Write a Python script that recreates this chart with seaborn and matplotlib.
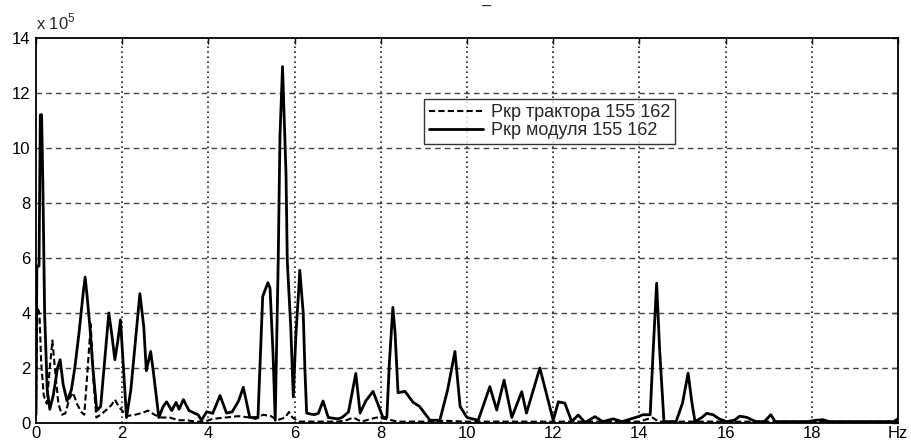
import matplotlib
matplotlib.use("Agg")
import matplotlib.pyplot as plt
import seaborn as sns
import numpy as np
import pandas as pd

# ---- data (force amplitude, units of 1e5) ----
module_freq = [0.00, 0.02, 0.07, 0.10, 0.13, 0.16, 0.20, 0.26, 0.32, 0.40, 0.50, 0.56, 0.63, 0.72,
               0.82, 0.90, 1.00, 1.10, 1.14, 1.18, 1.25, 1.32, 1.41, 1.50, 1.60, 1.69, 1.76, 1.83,
               1.90, 1.96, 2.03, 2.10, 2.20, 2.32, 2.41, 2.50, 2.56, 2.66, 2.72, 2.85, 2.95, 3.03,
               3.15, 3.25, 3.32, 3.42, 3.55, 3.76, 3.84, 3.96, 4.10, 4.27, 4.42, 4.55, 4.70, 4.81,
               4.96, 5.15, 5.22, 5.26, 5.38, 5.43, 5.50, 5.55, 5.62, 5.66, 5.72, 5.76, 5.80, 5.83,
               5.91, 5.97, 6.03, 6.09, 6.12, 6.20, 6.24, 6.28, 6.45, 6.55, 6.66, 6.78, 7.00, 7.10,
               7.25, 7.42, 7.52, 7.65, 7.82, 8.05, 8.14, 8.20, 8.28, 8.33, 8.40, 8.56, 8.75, 8.90,
               9.14, 9.37, 9.55, 9.72, 9.84, 10.00, 10.26, 10.53, 10.69, 10.86, 11.04, 11.27, 11.38,
               11.69, 12.00, 12.12, 12.27, 12.43, 12.58, 12.74, 12.97, 13.15, 13.39, 13.60, 13.97,
               14.08, 14.25, 14.32, 14.40, 14.47, 14.57, 14.85, 15.00, 15.13, 15.22, 15.29, 15.45,
               15.56, 15.71, 15.85, 16.02, 16.20, 16.33, 16.50, 16.70, 16.90, 17.05, 17.15, 17.50,
               17.90, 18.10, 18.26, 18.40, 18.65, 19.90, 20.00]
module_vals = [0.3, 5.7, 5.7, 11.2, 11.2, 8.6, 4.0, 1.2, 0.5, 1.0, 2.0, 2.3, 1.4, 0.8,
               1.2, 2.0, 3.3, 4.8, 5.3, 4.7, 3.5, 2.0, 0.45, 0.6, 2.4, 4.0, 3.2, 2.3,
               3.0, 3.75, 2.0, 0.2, 1.2, 3.2, 4.7, 3.5, 1.9, 2.6, 1.9, 0.2, 0.6, 0.77,
               0.45, 0.75, 0.5, 0.85, 0.45, 0.3, 0.1, 0.41, 0.35, 1.0, 0.36, 0.4, 0.8, 1.3,
               0.2, 0.2, 3.0, 4.6, 5.1, 4.9, 2.5, 0.1, 5.9, 10.4, 12.95, 11.0, 9.1, 5.9,
               3.5, 0.95, 3.2, 4.7, 5.55, 4.0, 1.9, 0.36, 0.3, 0.35, 0.8, 0.2, 0.15, 0.2,
               0.4, 1.8, 0.36, 0.8, 1.15, 0.2, 0.2, 2.2, 4.2, 3.3, 1.1, 1.15, 0.75, 0.6,
               0.1, 0.1, 1.2, 2.6, 0.6, 0.2, 0.1, 1.32, 0.47, 1.56, 0.2, 1.14, 0.36,
               2.0, 0.1, 0.77, 0.72, 0.05, 0.29, 0.02, 0.23, 0.05, 0.15, 0.05, 0.23,
               0.3, 0.3, 2.65, 5.08, 2.65, 0.05, 0.05, 0.72, 1.81, 0.72, 0.05, 0.2,
               0.35, 0.3, 0.15, 0.05, 0.1, 0.25, 0.2, 0.05, 0.05, 0.3, 0.05, 0.05,
               0.05, 0.1, 0.12, 0.05, 0.05, 0.05, 0.15]

tractor_freq = [0.00, 0.03, 0.08, 0.12, 0.18, 0.25, 0.32, 0.38, 0.45, 0.52, 0.60, 0.68, 0.78, 0.86,
                0.95, 1.05, 1.12, 1.20, 1.27, 1.33, 1.40, 1.50, 1.65, 1.75, 1.83, 1.92, 2.00, 2.10,
                2.30, 2.45, 2.60, 2.75, 2.90, 3.10, 3.30, 3.50, 3.70, 3.90, 4.10, 4.40, 4.70, 4.95,
                5.10, 5.27, 5.45, 5.60, 5.78, 5.87, 5.95, 6.10, 6.60, 7.00, 7.20, 7.36, 7.55, 7.90,
                8.10, 8.40, 9.00, 9.50, 10.00, 11.00, 12.00, 13.00, 14.00, 14.30, 14.45, 15.00,
                16.00, 17.00, 18.00, 19.00, 20.00]
tractor_vals = [0.5, 4.2, 4.0, 2.2, 1.0, 0.7, 2.0, 3.0, 1.8, 0.7, 0.3, 0.35, 0.9, 1.1,
                0.7, 0.4, 0.3, 2.0, 3.6, 1.6, 0.2, 0.3, 0.5, 0.65, 0.85, 0.6, 0.45, 0.25,
                0.3, 0.36, 0.45, 0.3, 0.2, 0.2, 0.1, 0.1, 0.05, 0.05, 0.15, 0.2, 0.25, 0.2,
                0.15, 0.3, 0.25, 0.1, 0.2, 0.4, 0.2, 0.05, 0.05, 0.05, 0.1, 0.2, 0.05, 0.2,
                0.15, 0.05, 0.05, 0.08, 0.05, 0.05, 0.05, 0.05, 0.05, 0.2, 0.05, 0.05,
                0.05, 0.05, 0.05, 0.05, 0.05]

series_labels = ["Ркр трактора 155 162", "Ркр модуля 155 162"]
x_ticks = [0, 2, 4, 6, 8, 10, 12, 14, 16, 18, 20]
x_tick_labels = ["0", "2", "4", "6", "8", "10", "12", "14", "16", "18", "Hz"]
y_ticks = [0, 2, 4, 6, 8, 10, 12, 14]

# ---- style ----
sns.set_style("white")
plt.rcParams["font.family"] = ["Liberation Sans", "DejaVu Sans"]
plt.rcParams["mathtext.fontset"] = "custom"
plt.rcParams["mathtext.rm"] = "Liberation Sans"

fig = plt.figure(figsize=(9.12, 4.41), dpi=100)
ax = fig.add_axes([36 / 912, 1 - 423 / 441, (898 - 36) / 912, (423 - 37.7) / 441])

df_t = pd.DataFrame({"f": tractor_freq, "v": tractor_vals})
df_m = pd.DataFrame({"f": module_freq, "v": module_vals})

sns.lineplot(data=df_t, x="f", y="v", ax=ax, color="black", lw=1.5,
             estimator=None, sort=False, label=series_labels[0], zorder=3)
sns.lineplot(data=df_m, x="f", y="v", ax=ax, color="black", lw=2.0,
             estimator=None, sort=False, label=series_labels[1], zorder=4)
ax.lines[0].set_dashes((3, 1.5))

ax.set_xlim(0, 20)
ax.set_ylim(0, 14)
ax.set_xticks(x_ticks)
ax.set_xticklabels(x_tick_labels)
ax.set_yticks(y_ticks)
ax.set_xlabel("")
ax.set_ylabel("")

# grid: horizontal dashed, vertical dotted
for yv in y_ticks[1:-1]:
    ax.axhline(yv, color="#444444", lw=1.0, ls=(0, (4, 3)), zorder=1)
for xv in x_ticks[1:-1]:
    ax.axvline(xv, color="#222222", lw=1.2, ls=(0, (1, 2)), zorder=1)

for sp in ax.spines.values():
    sp.set_color("black")
    sp.set_linewidth(1.3)
ax.tick_params(direction="in", length=4, width=1, labelsize=12, colors="black", pad=2,
               top=True, right=True)
ax.tick_params(axis="y", pad=4)

leg = ax.legend(loc="upper left", bbox_to_anchor=(0.45, 0.842), borderaxespad=0,
                frameon=True, fancybox=False, fontsize=13, handlelength=3.0,
                handletextpad=0.4, borderpad=0.3, labelspacing=0.05)
leg.get_frame().set_edgecolor("black")
leg.get_frame().set_linewidth(1.0)

ax.text(0.0, 1.015, r"x 10$^{5}$", transform=ax.transAxes, fontsize=12,
        ha="left", va="bottom")
fig.text(487 / 912, 1 - 6 / 441, "\u2013", fontsize=12, ha="center", va="center")

fig.savefig("out.png", dpi=100)
